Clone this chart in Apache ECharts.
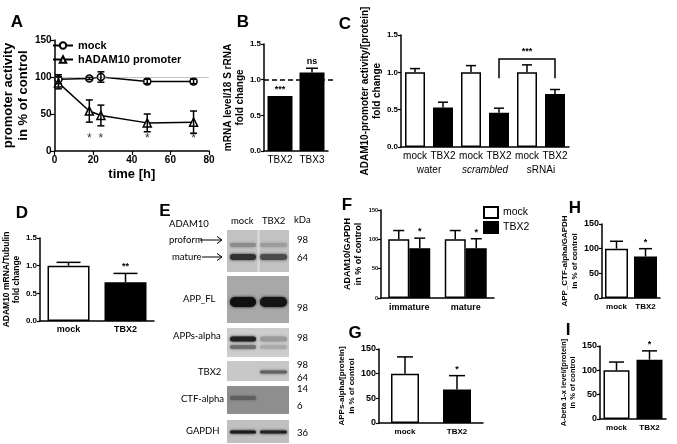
<!DOCTYPE html>
<html>
<head>
<meta charset="utf-8">
<script src="https://cdn.jsdelivr.net/npm/echarts@6/dist/echarts.min.js"></script>
<style>
html, body { margin: 0; padding: 0; background: #fff; }
#main { width: 677px; height: 444px; }
</style>
</head>
<body>
<div id="main"></div>
<script>
// ---- data ----
var timeA = [2, 18, 24, 48, 72];
var mockA = [97, 98, 100, 94, 94];
var mockAErr = [6, 1.5, 7, 3, 3];
var promA = [92, 54, 48, 38, 39];
var promAErr = [8, 15, 14, 12, 15];
var starsA = [18, 24, 48, 72];
var starLevelA = 17;

var catsB = ['TBX2', 'TBX3'];
var valsB = [0.77, 1.10];
var errB = [0, 0.06];
var sigB = ['***', 'ns'];

var catsC = ['mock', 'TBX2', 'mock', 'TBX2', 'mock', 'TBX2'];
var groupsC = ['water', 'scrambled', 'sRNAi'];
var valsC = [1.0, 0.53, 1.0, 0.46, 1.0, 0.71];
var errC = [0.05, 0.07, 0.09, 0.06, 0.10, 0.06];
var bracketC = [3, 5, 1.18, 0.92];

var catsD = ['mock', 'TBX2'];
var valsD = [1.0, 0.70];
var errD = [0.06, 0.16];
var sigD = ['', '**'];

var catsF = ['immature', 'mature'];
var mockF = [100, 100];
var mockFErr = [15, 15];
var tbx2F = [85, 85];
var tbx2FErr = [17, 16];
var sigF = ['*', '*'];

var catsGHI = ['mock', 'TBX2'];
var valsG = [100, 68];
var errG = [34, 28];
var valsH = [100, 84];
var errH = [15, 16];
var valsI = [100, 122];
var errI = [17, 18];
var sigTBX2 = ['', '*'];

// ---- helpers ----
var FF = 'Liberation Sans';
var WHITE = '#ffffff', BLACK = '#000000';
var grids = [], xAxes = [], yAxes = [], series = [];

function addGrid(l, t, w, h) {
    grids.push({ left: l, top: t, width: w, height: h });
    return grids.length - 1;
}

function valueY(gi, o) {
    return {
        type: 'value', gridIndex: gi, min: 0, max: o.max, interval: o.interval,
        axisLine: { show: true, lineStyle: { color: '#000', width: 1.5 } },
        axisTick: { show: true, length: o.tickLen || 3, lineStyle: { color: '#000', width: 1.2 } },
        splitLine: { show: false },
        axisLabel: {
            color: '#000', fontWeight: 'bold', fontFamily: FF, fontSize: o.tickSize, margin: 3,
            formatter: o.dec ? function (v) { return v.toFixed(1); } : null
        },
        name: o.name, nameLocation: 'middle', nameRotate: 90, nameGap: o.nameGap,
        nameTextStyle: { color: '#000', fontWeight: 'bold', fontFamily: FF, fontSize: o.nameSize, lineHeight: o.nameSize + 2 }
    };
}

function catX(gi, cats, o) {
    return {
        type: 'category', gridIndex: gi, data: cats,
        axisLine: { show: true, lineStyle: { color: '#000', width: 1.5 } },
        axisTick: { show: false },
        axisLabel: { color: '#000', fontWeight: o.bold ? 'bold' : 'normal', fontFamily: FF, fontSize: o.size, margin: o.margin || 4, interval: 0 }
    };
}

function errSeries(ai, data, capW, both, offset, labels, labelSize) {
    return {
        type: 'custom', xAxisIndex: ai, yAxisIndex: ai, data: data, z: 5, silent: true,
        renderItem: function (p, api) {
            var x = api.value(0), v = api.value(1), e = api.value(2);
            var top = api.coord([x, v + e]);
            var bot = api.coord([x, both ? v - e : v]);
            var cx = top[0] + (offset || 0);
            var st = { stroke: '#000', lineWidth: 1.5 };
            var ch = [];
            if (e > 0) {
                ch.push({ type: 'line', shape: { x1: cx, y1: bot[1], x2: cx, y2: top[1] }, style: st });
                ch.push({ type: 'line', shape: { x1: cx - capW / 2, y1: top[1], x2: cx + capW / 2, y2: top[1] }, style: st });
                if (both) ch.push({ type: 'line', shape: { x1: cx - capW / 2, y1: bot[1], x2: cx + capW / 2, y2: bot[1] }, style: st });
            }
            var lab = labels && labels[p.dataIndex];
            if (lab) {
                ch.push({ type: 'text', x: cx, y: top[1] - 2, style: {
                    text: lab, align: 'center', verticalAlign: 'bottom',
                    font: 'bold ' + labelSize + 'px ' + FF, fill: '#000' } });
            }
            return { type: 'group', children: ch };
        }
    };
}

function triple(vals, errs) {
    return vals.map(function (v, i) { return [i, v, errs[i]]; });
}

function barSeries(ai, vals, colors, bw) {
    return {
        type: 'bar', xAxisIndex: ai, yAxisIndex: ai, barWidth: bw, silent: true,
        itemStyle: { borderColor: '#000', borderWidth: 1.5 },
        data: vals.map(function (v, i) { return { value: v, itemStyle: { color: colors[i] } }; })
    };
}

function addBarPanel(g, vals, errs, colors, bw, capW, sig, sigSize) {
    series.push(barSeries(g, vals, colors, bw));
    series.push(errSeries(g, triple(vals, errs), capW, false, 0, sig, sigSize));
}

// ---- panel A ----
var gA = addGrid(44, 40, 165, 111);
xAxes.push({
    type: 'value', gridIndex: gA, min: 0, max: 80, interval: 20,
    axisLine: { show: true, onZero: false, lineStyle: { color: '#000', width: 1.5 } },
    axisTick: { show: true, length: 4, lineStyle: { color: '#000', width: 1.2 } },
    splitLine: { show: false },
    axisLabel: { color: '#000', fontWeight: 'bold', fontFamily: FF, fontSize: 10, margin: 4 },
    name: 'time [h]', nameLocation: 'middle', nameGap: 17,
    nameTextStyle: { color: '#000', fontWeight: 'bold', fontFamily: FF, fontSize: 13 }
});
yAxes.push(valueY(gA, { max: 150, interval: 50, tickSize: 10, tickLen: 4, name: 'promoter activity\nin % of control', nameSize: 13, nameGap: 17 }));
series.push({
    name: 'mock', type: 'line', xAxisIndex: gA, yAxisIndex: gA, z: 4,
    data: timeA.map(function (t, i) { return [t, mockA[i]]; }),
    symbol: 'circle', symbolSize: 7,
    lineStyle: { color: '#000', width: 1.5 },
    itemStyle: { color: '#fff', borderColor: '#000', borderWidth: 1.5 },
    markLine: {
        silent: true, symbol: 'none', label: { show: false },
        lineStyle: { color: '#888', type: 'dotted', width: 1 },
        data: [{ yAxis: 100 }]
    }
});
series.push({
    name: 'hADAM10 promoter', type: 'line', xAxisIndex: gA, yAxisIndex: gA, z: 4,
    data: timeA.map(function (t, i) { return [t, promA[i]]; }),
    symbol: 'triangle', symbolSize: 8,
    lineStyle: { color: '#000', width: 1.5 },
    itemStyle: { color: '#fff', borderColor: '#000', borderWidth: 1.5 }
});
series.push(errSeries(gA, timeA.map(function (t, i) { return [t, mockA[i], mockAErr[i]]; }), 7, true));
series.push(errSeries(gA, timeA.map(function (t, i) { return [t, promA[i], promAErr[i]]; }), 7, true));
series.push({
    type: 'scatter', xAxisIndex: gA, yAxisIndex: gA, symbolSize: 0, silent: true,
    data: starsA.map(function (t) { return [t, starLevelA]; }),
    label: { show: true, position: 'inside', formatter: '*', color: '#000', fontSize: 12, fontFamily: FF }
});

// ---- panel B ----
var gB = addGrid(264, 44, 64, 107);
xAxes.push(catX(gB, catsB, { size: 10, margin: 4 }));
yAxes.push(valueY(gB, { max: 1.5, interval: 0.5, tickSize: 8, dec: true, name: 'mRNA level/18 S rRNA\nfold change', nameSize: 10, nameGap: 13 }));
var sb = barSeries(gB, valsB, [BLACK, BLACK], 25);
sb.markLine = {
    silent: true, symbol: 'none', label: { show: false },
    lineStyle: { color: '#000', type: [5, 3], width: 1.5 },
    data: [[{ yAxis: 1.0, x: 264 }, { yAxis: 1.0, x: 336 }]]
};
series.push(sb);
series.push(errSeries(gB, triple(valsB, errB), 12, false, 0, sigB, 9));

// ---- panel C ----
var gC = addGrid(401, 35, 168, 112);
xAxes.push(catX(gC, catsC, { size: 10, margin: 4 }));
yAxes.push(valueY(gC, { max: 1.5, interval: 0.5, tickSize: 8, dec: true, name: 'ADAM10-promoter activity/[protein]\nfold change', nameSize: 10, nameGap: 18 }));
addBarPanel(gC, valsC, errC, [WHITE, BLACK, WHITE, BLACK, WHITE, BLACK], 20, 10);
series.push({
    type: 'custom', xAxisIndex: gC, yAxisIndex: gC, data: [bracketC], silent: true, z: 6,
    renderItem: function (p, api) {
        var a = api.coord([api.value(0), api.value(3)]);
        var b = api.coord([api.value(0), api.value(2)]);
        var c = api.coord([api.value(1), api.value(2)]);
        var d = api.coord([api.value(1), api.value(3)]);
        return { type: 'group', children: [
            { type: 'polyline', shape: { points: [a, b, c, d] }, style: { stroke: '#000', lineWidth: 1.5, fill: null } },
            { type: 'text', x: (b[0] + c[0]) / 2, y: b[1] - 3, style: { text: '***', align: 'center', verticalAlign: 'bottom', font: 'bold 9px ' + FF, fill: '#000' } }
        ] };
    }
});

// ---- panel D ----
var gD = addGrid(35, 238, 119, 83);
xAxes.push(catX(gD, catsD, { size: 9, bold: true, margin: 4 }));
yAxes.push(valueY(gD, { max: 1.5, interval: 0.5, tickSize: 8, dec: true, name: 'ADAM10 mRNA/Tubulin\nfold change', nameSize: 8.5, nameGap: 16 }));
addBarPanel(gD, valsD, errD, [WHITE, BLACK], 42, 24, sigD, 9);

// ---- panel F ----
var gF = addGrid(381, 210, 113, 88);
xAxes.push(catX(gF, catsF, { size: 9, bold: true, margin: 5 }));
yAxes.push(valueY(gF, { max: 150, interval: 50, tickSize: 5.5, name: 'ADAM10/GAPDH\nin % of control', nameSize: 9, nameGap: 17 }));
series.push({
    name: 'F-mock', type: 'bar', xAxisIndex: gF, yAxisIndex: gF, barWidth: 21, barGap: '0%', silent: true,
    itemStyle: { color: WHITE, borderColor: '#000', borderWidth: 1.5 }, data: mockF
});
series.push({
    name: 'F-TBX2', type: 'bar', xAxisIndex: gF, yAxisIndex: gF, barWidth: 21, barGap: '0%', silent: true,
    itemStyle: { color: BLACK, borderColor: '#000', borderWidth: 1.5 }, data: tbx2F
});
series.push(errSeries(gF, triple(mockF, mockFErr), 11, false, -10.5));
series.push(errSeries(gF, triple(tbx2F, tbx2FErr), 11, false, 10.5, sigF, 9));

// ---- panel H ----
var gH = addGrid(602, 224, 58, 74);
xAxes.push(catX(gH, catsGHI, { size: 8, bold: true, margin: 5 }));
yAxes.push(valueY(gH, { max: 150, interval: 50, tickSize: 9, name: 'APP_CTF-alpha/GAPDH\nin % of control', nameSize: 8, nameGap: 14 }));
addBarPanel(gH, valsH, errH, [WHITE, BLACK], 23, 13, sigTBX2, 9);

// ---- panel G ----
var gG = addGrid(379, 349, 104, 74);
xAxes.push(catX(gG, catsGHI, { size: 8, bold: true, margin: 5 }));
yAxes.push(valueY(gG, { max: 150, interval: 50, tickSize: 9, name: 'APPs-alpha/[protein]\nin % of control', nameSize: 8, nameGap: 19 }));
addBarPanel(gG, valsG, errG, [WHITE, BLACK], 28, 16, sigTBX2, 9);

// ---- panel I ----
var gI = addGrid(600, 346, 66, 73);
xAxes.push(catX(gI, catsGHI, { size: 8, bold: true, margin: 5 }));
yAxes.push(valueY(gI, { max: 150, interval: 50, tickSize: 9, name: 'A-beta 1-x level/[protein]\nin % of control', nameSize: 7.5, nameGap: 14 }));
addBarPanel(gI, valsI, errI, [WHITE, BLACK], 26, 15, sigTBX2, 9);

// group labels under panel C (extra axis, pushed last so indices stay aligned)
xAxes.push({
    type: 'category', gridIndex: gC, position: 'bottom', offset: 14,
    data: groupsC.map(function (g) { return g === 'scrambled' ? { value: g, textStyle: { fontStyle: 'italic' } } : g; }),
    axisLine: { show: false }, axisTick: { show: false },
    axisLabel: { color: '#000', fontFamily: FF, fontSize: 10, margin: 4, interval: 0 }
});

// ---- panel E (western blot picture) ----
var blots = [
    { y: 230, h: 42, bg: '#c2c2c2', bands: [
        { y: 245, h: 4, c: ['#8c8c8c', '#9c9c9c'] },
        { y: 257, h: 6, c: ['#303030', '#4c4c4c'] } ], divider: true },
    { y: 276, h: 47, bg: '#a8a8a8', bands: [ { y: 302, h: 10, c: ['#101010', '#141414'] } ] },
    { y: 328, h: 29, bg: '#cdcdcd', bands: [
        { y: 339, h: 5, c: ['#202020', '#9a9a9a'] },
        { y: 347, h: 4, c: ['#707070', '#ababab'] } ] },
    { y: 361, h: 20, bg: '#c8c8c8', bands: [ { y: 372, h: 3, c: [null, '#606060'] } ] },
    { y: 386, h: 28, bg: '#8e8e8e', bands: [ { y: 398, h: 4, c: ['#5e5e5e', null] } ] },
    { y: 420, h: 23, bg: '#c0c0c0', bands: [ { y: 432, h: 3, c: ['#1a1a1a', '#222222'] } ] }
];
var lanes = [[230, 256], [260, 287]];
var blotGraphics = [];
blots.forEach(function (b) {
    blotGraphics.push({ type: 'rect', shape: { x: 227, y: b.y, width: 62, height: b.h }, style: { fill: b.bg } });
    if (b.divider) blotGraphics.push({ type: 'rect', shape: { x: 257, y: b.y, width: 3, height: b.h }, style: { fill: '#d6d6d6' } });
    b.bands.forEach(function (bd) {
        bd.c.forEach(function (col, li) {
            if (!col) return;
            blotGraphics.push({ type: 'rect', shape: { x: lanes[li][0], y: bd.y - bd.h / 2, width: lanes[li][1] - lanes[li][0], height: bd.h, r: bd.h / 2 },
                style: { fill: col, shadowBlur: 3, shadowColor: col } });
        });
    });
});

function txt(x, y, s, font, align) {
    return { type: 'text', x: x, y: y, style: { text: s, font: font, fill: '#000', align: align || 'left', verticalAlign: 'middle' } };
}
var blotFont = '9.5px Lato';
var eTexts = [
    txt(169, 224, 'ADAM10', blotFont),
    txt(169, 240, 'proform', blotFont),
    txt(172, 257, 'mature', blotFont),
    txt(183, 299, 'APP_FL', blotFont),
    txt(173, 336, 'APPs-alpha', blotFont),
    txt(198, 372, 'TBX2', blotFont),
    txt(181, 399, 'CTF-alpha', blotFont),
    txt(186, 431, 'GAPDH', blotFont),
    txt(231, 221, 'mock', blotFont),
    txt(262, 221, 'TBX2', blotFont),
    txt(294, 220, 'kDa', blotFont),
    txt(297, 240, '98', blotFont), txt(297, 258, '64', blotFont),
    txt(297, 308, '98', blotFont), txt(297, 338, '98', blotFont),
    txt(297, 365, '98', blotFont), txt(297, 378, '64', blotFont),
    txt(297, 389, '14', blotFont), txt(297, 406, '6', blotFont),
    txt(297, 433, '36', blotFont)
];
function arrow(x1, x2, y) {
    return { type: 'group', children: [
        { type: 'line', shape: { x1: x1, y1: y, x2: x2, y2: y }, style: { stroke: '#000', lineWidth: 1 } },
        { type: 'polyline', shape: { points: [[x2 - 5, y - 3.5], [x2, y], [x2 - 5, y + 3.5]] }, style: { stroke: '#000', lineWidth: 1, fill: null } }
    ] };
}

var letterFont = 'bold 17px ' + FF;
var letters = [
    txt(17, 22, 'A', letterFont, 'center'), txt(243, 22, 'B', letterFont, 'center'),
    txt(345, 24, 'C', letterFont, 'center'), txt(22, 213, 'D', letterFont, 'center'),
    txt(165, 211, 'E', letterFont, 'center'), txt(347, 205, 'F', letterFont, 'center'),
    txt(575, 208, 'H', letterFont, 'center'), txt(355, 333, 'G', letterFont, 'center'),
    txt(568, 330, 'I', letterFont, 'center')
];

var chart = echarts.init(document.getElementById('main'), null, { renderer: 'canvas' });
chart.setOption({
    animation: false,
    backgroundColor: '#fff',
    textStyle: { fontFamily: FF },
    grid: grids,
    xAxis: xAxes,
    yAxis: yAxes,
    legend: [{
        data: ['mock', 'hADAM10 promoter'], left: 47, top: 35, orient: 'vertical',
        itemGap: 3, itemWidth: 20, itemHeight: 8, selectedMode: false,
        textStyle: { fontWeight: 'bold', fontSize: 11, fontFamily: FF, color: '#000' }
    }, {
        data: ['F-mock', 'F-TBX2'], left: 478, top: 201, orient: 'vertical',
        formatter: function (n) { return n.slice(2); },
        icon: 'rect', itemGap: 2, itemWidth: 14, itemHeight: 11, selectedMode: false,
        textStyle: { fontSize: 10.5, fontFamily: FF, color: '#000' }
    }],
    graphic: blotGraphics.concat(eTexts, [arrow(200, 222, 240), arrow(202, 222, 257)], letters),
    series: series
});
</script>
</body>
</html>
